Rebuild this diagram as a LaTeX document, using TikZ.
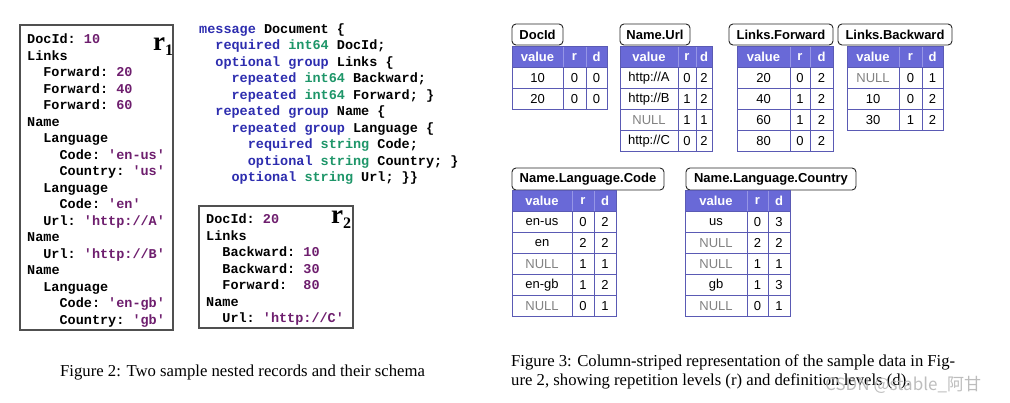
\documentclass[tikz,border=0pt]{standalone}
\usepackage{fontspec}
\setmainfont{Liberation Serif}
\setsansfont{Liberation Sans}
\setmonofont{Liberation Mono}
\newfontfamily\cjkfont{Noto Sans CJK SC}
\definecolor{kwblue}{RGB}{45,45,175}
\definecolor{tygreen}{RGB}{30,150,105}
\definecolor{valpurple}{RGB}{110,30,110}
\definecolor{hdrfill}{RGB}{105,105,215}
\definecolor{tabblue}{RGB}{90,90,180}
\definecolor{hdrsepc}{RGB}{150,150,230}
\definecolor{nullgray}{RGB}{130,130,130}
\definecolor{boxgray}{RGB}{80,80,80}
\newcommand\kw[1]{\textcolor{kwblue}{#1}}
\newcommand\ty[1]{\textcolor{tygreen}{#1}}
\newcommand\vl[1]{\textcolor{valpurple}{#1}}
\newcommand\sq[1]{\textquotesingle#1\textquotesingle}
\newcommand\N{\textcolor{nullgray}{NULL}}
\tikzset{
  code/.style={anchor=base west, inner sep=0pt, font=\fontsize{13.5}{16}\selectfont\ttfamily\bfseries},
  recbox/.style={draw=boxgray, line width=1.1pt},
  rlabel/.style={anchor=base west, inner sep=0pt, font=\fontsize{27}{27}\selectfont\bfseries},
  lbl/.style={draw=black!85, line width=0.9pt, rounded corners=4pt, inner sep=0pt, minimum height=21pt, font=\fontsize{13}{13}\selectfont\sffamily\bfseries},
  hdrtxt/.style={inner sep=0pt, text=white, font=\fontsize{13}{13}\selectfont\sffamily\bfseries},
  celltxt/.style={inner sep=0pt, font=\fontsize{13}{13}\selectfont\sffamily},
  tabline/.style={draw=tabblue, line width=0.9pt},
  hdrsep/.style={draw=hdrsepc, line width=0.8pt},
  caption/.style={anchor=base west, inner sep=0pt, font=\fontsize{16.7}{19}\selectfont},
}
% #1 id, #2 x0, #3 x1, #4 x2, #5 x3, #6 top, #7 nrows, #8 rows
\newcommand\ctable[8]{%
  \fill[hdrfill] (#2,#6) rectangle (#5,#6+21);
  \draw[hdrsep] (#3,#6) -- (#3,#6+21);
  \draw[hdrsep] (#4,#6) -- (#4,#6+21);
  \node[hdrtxt] (#1-hv) at ({(#2+#3)/2},#6+11) {value};
  \node[hdrtxt] (#1-hr) at ({(#3+#4)/2},#6+11) {r};
  \node[hdrtxt] (#1-hd) at ({(#4+#5)/2},#6+11) {d};
  \foreach \va/\vb/\vc [count=\k] in {#8} {
    \draw[tabline] (#2,#6+21*\k) -- (#5,#6+21*\k);
    \node[celltxt] (#1-v\k) at ({(#2+#3)/2},#6+21*\k+11) {\va};
    \node[celltxt] (#1-r\k) at ({(#3+#4)/2},#6+21*\k+11) {\vb};
    \node[celltxt] (#1-d\k) at ({(#4+#5)/2},#6+21*\k+11) {\vc};
  }
  \draw[tabline] (#3,#6+21) -- (#3,#6+21*#7+21);
  \draw[tabline] (#4,#6+21) -- (#4,#6+21*#7+21);
  \draw[tabline] (#2,#6) rectangle (#5,#6+21*#7+21);
}
\begin{document}
\begin{tikzpicture}[x=1pt,y=-1pt]
\useasboundingbox (0,0) rectangle (1010,402);
\fill[white] (0,0) rectangle (1010,402);

% ---------- record r1 ----------
\draw[recbox] (20,25) rectangle (173,330);
\foreach \ind/\txt [count=\i] in {
  0/{DocId: \vl{10}}, 0/{Links}, 1/{Forward: \vl{20}}, 1/{Forward: \vl{40}},
  1/{Forward: \vl{60}}, 0/{Name}, 1/{Language}, 2/{Code: \vl{\sq{en-us}}},
  2/{Country: \vl{\sq{us}}}, 1/{Language}, 2/{Code: \vl{\sq{en}}},
  1/{Url: \vl{\sq{http://A}}}, 0/{Name}, 1/{Url: \vl{\sq{http://B}}},
  0/{Name}, 1/{Language}, 2/{Code: \vl{\sq{en-gb}}}, 2/{Country: \vl{\sq{gb}}}}
  \node[code] (r1l\i) at (27+\ind*16.2, 43.5+\i*16.53-16.53) {\txt};
\node[rlabel] (r1lab) at (153,50) {r\raisebox{-5pt}{\fontsize{16}{16}\selectfont 1}};

% ---------- schema ----------
\foreach \ind/\txt [count=\i] in {
  0/{\kw{message} Document \{},
  1/{\kw{required} \ty{int64} DocId;},
  1/{\kw{optional group} Links \{},
  2/{\kw{repeated} \ty{int64} Backward;},
  2/{\kw{repeated} \ty{int64} Forward; \}},
  1/{\kw{repeated group} Name \{},
  2/{\kw{repeated group} Language \{},
  3/{\kw{required} \ty{string} Code;},
  3/{\kw{optional} \ty{string} Country; \}},
  2/{\kw{optional} \ty{string} Url; \}\}}}
  \node[code] (sch\i) at (199+\ind*16.2, 33.5+\i*16.44-16.44) {\txt};

% ---------- record r2 ----------
\draw[recbox] (199,206) rectangle (353,328);
\foreach \ind/\txt [count=\i] in {
  0/{DocId: \vl{20}}, 0/{Links}, 1/{Backward: \vl{10}}, 1/{Backward: \vl{30}},
  1/{Forward:\ \ \vl{80}}, 0/{Name}, 1/{Url: \vl{\sq{http://C}}}}
  \node[code] (r2l\i) at (206+\ind*16.2, 223.5+\i*16.5-16.5) {\txt};
\node[rlabel] (r2lab) at (331,223) {r\raisebox{-5pt}{\fontsize{16}{16}\selectfont 2}};

% ---------- column tables ----------
\node[lbl, minimum width=51pt] (docid) at (537.5,34.5) {DocId};
\ctable{tdoc}{512}{563}{586}{607}{46}{2}{10/0/0, 20/0/0}

\node[lbl, minimum width=70pt] (nurl) at (655,34.5) {Name.Url};
\ctable{turl}{620}{678}{696}{712}{46}{4}{{http://A}/0/2, {http://B}/1/2, \N/1/1, {http://C}/0/2}

\node[lbl, minimum width=104pt] (lfwd) at (781,34.5) {Links.Forward};
\ctable{tfwd}{737}{790}{810}{833}{46}{4}{20/0/2, 40/1/2, 60/1/2, 80/0/2}

\node[lbl, minimum width=114pt] (lbwd) at (895,34.5) {Links.Backward};
\ctable{tbwd}{847}{899}{922}{943}{46}{3}{\N/0/1, 10/0/2, 30/1/2}

\node[lbl, minimum width=152pt, minimum height=22pt] (nlcode) at (588,179) {Name.Language.Code};
\ctable{tcode}{512}{572}{594}{616}{190}{5}{en-us/0/2, en/2/2, \N/1/1, en-gb/1/2, \N/0/1}

\node[lbl, minimum width=170pt, minimum height=22pt] (nlctry) at (771,179) {Name.Language.Country};
\ctable{tctry}{685}{747}{768}{790}{190}{5}{us/0/3, \N/2/2, \N/1/1, gb/1/3, \N/0/1}

% ---------- captions ----------
\node[caption] (cap2) at (60,376) {Figure 2: Two sample nested records and their schema};
\node[caption] (cap3a) at (511,366) {\makebox[444pt][s]{Figure 3: Column-striped representation of the sample data in Fig-}};
\node[caption] (cap3b) at (511,385) {ure 2, showing repetition levels (r) and definition levels (d).};
\node[anchor=base west, inner sep=0pt, text=black!30, opacity=0.85, font=\fontsize{17}{17}\selectfont\cjkfont] (wm) at (825,390) {CSDN @stable\_阿甘};
\end{tikzpicture}
\end{document}
